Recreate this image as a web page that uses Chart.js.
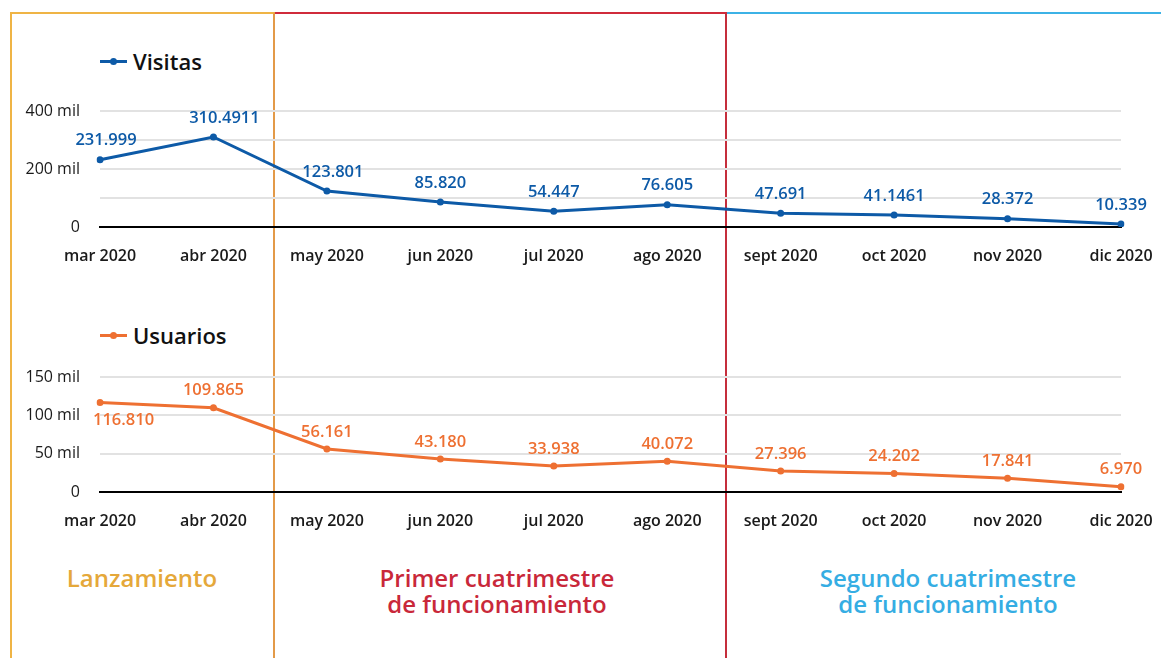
<!DOCTYPE html>
<html>
<head>
<meta charset="utf-8">
<script src="https://cdn.jsdelivr.net/npm/chart.js@4.4.0/dist/chart.umd.min.js"></script>
<style>
  body { margin: 0; background: #fff; font-family: "Open Sans", sans-serif; }
  #page { position: relative; width: 1161px; height: 658px; overflow: hidden; }
  .box { position: absolute; box-sizing: border-box; }
  .chart { position: absolute; left: 0; width: 1161px; }
  .legend { position: absolute; left: 100px; display: flex; align-items: center; font-size: 22px; font-weight: 600; color: #111; }
  .legend .mark { position: relative; width: 27px; height: 3px; margin-right: 6px; }
  .legend .mark i { position: absolute; left: 10px; top: -2px; width: 7px; height: 7px; border-radius: 50%; }
  .periodo { position: absolute; top: 565px; font-size: 24px; font-weight: 600; text-align: center; line-height: 26px; transform: translateX(-50%); white-space: nowrap; }
</style>
</head>
<body>
<div id="page">
  <div class="box" style="left:10px; top:12px; width:265px; height:660px; border-left:2px solid #efb445; border-top:2px solid #efb445; border-right:2px solid #e39a48;"></div>
  <div class="box" style="left:275px; top:12px; width:452px; height:660px; border-top:2px solid #d02b3b; border-right:2px solid #c52e3c;"></div>
  <div class="box" style="left:727px; top:12px; width:440px; height:2px; background:#3cb2e6;"></div>

  <div class="legend" style="top:46px;"><span class="mark" style="background:#0d5aa7"><i style="background:#0d5aa7"></i></span>Visitas</div>
  <div class="legend" style="top:320px;"><span class="mark" style="background:#ee7032"><i style="background:#ee7032"></i></span>Usuarios</div>

  <div class="chart" style="top:0; height:280px;"><canvas id="visitas"></canvas></div>
  <div class="chart" style="top:280px; height:270px;"><canvas id="usuarios"></canvas></div>

  <div class="periodo" style="left:142px; color:#e5a83a;">Lanzamiento</div>
  <div class="periodo" style="left:497px; color:#c9283a;">Primer cuatrimestre<br>de funcionamiento</div>
  <div class="periodo" style="left:948px; color:#35ade3;">Segundo cuatrimestre<br>de funcionamiento</div>
</div>

<script>
// meses del periodo
const meses = ['mar 2020', 'abr 2020', 'may 2020', 'jun 2020', 'jul 2020', 'ago 2020', 'sept 2020', 'oct 2020', 'nov 2020', 'dic 2020'];

// visitas por mes y sus etiquetas tal como aparecen
const visitas = [231999, 310491, 123801, 85820, 54447, 76605, 47691, 41146, 28372, 10339];
const etiquetasVisitas = ['231.999', '310.4911', '123.801', '85.820', '54.447', '76.605', '47.691', '41.1461', '28.372', '10.339'];

// usuarios por mes
const usuarios = [116810, 109865, 56161, 43180, 33938, 40072, 27396, 24202, 17841, 6970];
const etiquetasUsuarios = ['116.810', '109.865', '56.161', '43.180', '33.938', '40.072', '27.396', '24.202', '17.841', '6.970'];

// ticks del eje y
const ticksVisitas = { max: 400000, step: 100000, every: 200000 };
const ticksUsuarios = { max: 150000, step: 25000, every: 50000 };

// etiquetas que van debajo del punto
const debajoUsuarios = [0];

const FONT = '"Open Sans", sans-serif';

// dibuja los valores sobre cada punto
const valoresPlugin = {
  id: 'valores',
  afterDatasetsDraw(chart, args, opts) {
    const ctx = chart.ctx;
    const meta = chart.getDatasetMeta(0);
    const dx = opts.dx || [];
    ctx.save();
    ctx.font = `600 16.5px ${FONT}`;
    ctx.fillStyle = opts.color;
    ctx.textBaseline = 'middle';
    meta.data.forEach((pt, i) => {
      if ((opts.below || []).includes(i)) {
        ctx.textAlign = 'left';
        ctx.fillText(opts.labels[i], pt.x - 7, pt.y + 18);
      } else {
        ctx.textAlign = 'center';
        ctx.fillText(opts.labels[i], pt.x + (dx[i] || 0), pt.y - opts.offset);
      }
    });
    ctx.restore();
  }
};

function crearGrafico(id, datos, etiquetas, color, ticks, padTop, xHeight, offset, below, dx) {
  const ctx = document.getElementById(id).getContext('2d');
  return new Chart(ctx, {
    type: 'line',
    data: {
      labels: meses,
      datasets: [{
        data: datos,
        borderColor: color,
        backgroundColor: color,
        borderWidth: 3,
        pointRadius: 3.5,
        pointBorderWidth: 0,
        pointHoverRadius: 3.5,
        tension: 0
      }]
    },
    options: {
      responsive: true,
      maintainAspectRatio: false,
      animation: false,
      layout: { padding: { top: padTop, right: 40, left: 0, bottom: 0 } },
      plugins: {
        legend: { display: false },
        tooltip: { enabled: false },
        valores: { labels: etiquetas, color: color, offset: offset, below: below, dx: dx }
      },
      scales: {
        x: {
          offset: false,
          grid: { display: false, drawTicks: false },
          border: { color: '#000', width: 2 },
          ticks: { color: '#1a1a1a', padding: 20, maxRotation: 0, font: { family: FONT, size: 16, weight: '600' } },
          afterFit: (scale) => {
            scale.height = xHeight;
            scale.paddingLeft = 0;
            scale.paddingRight = 0;
          }
        },
        y: {
          min: 0,
          max: ticks.max,
          grid: { color: '#e2e2e2', lineWidth: 2, drawTicks: false },
          border: { display: false },
          ticks: {
            stepSize: ticks.step,
            padding: 20,
            color: '#1a1a1a',
            font: { family: FONT, size: 16 },
            callback: (v) => {
              if (v % ticks.every !== 0) return '';
              return v === 0 ? '0' : (v / 1000) + ' mil';
            }
          },
          afterFit: (scale) => { scale.width = 100; }
        }
      }
    },
    plugins: [valoresPlugin]
  });
}

crearGrafico('visitas', visitas, etiquetasVisitas, '#0d5aa7', ticksVisitas, 111, 53, 19, [], [6, 11, 6]);
crearGrafico('usuarios', usuarios, etiquetasUsuarios, '#ee7032', ticksUsuarios, 97, 58, 17, debajoUsuarios, []);
</script>
</body>
</html>
